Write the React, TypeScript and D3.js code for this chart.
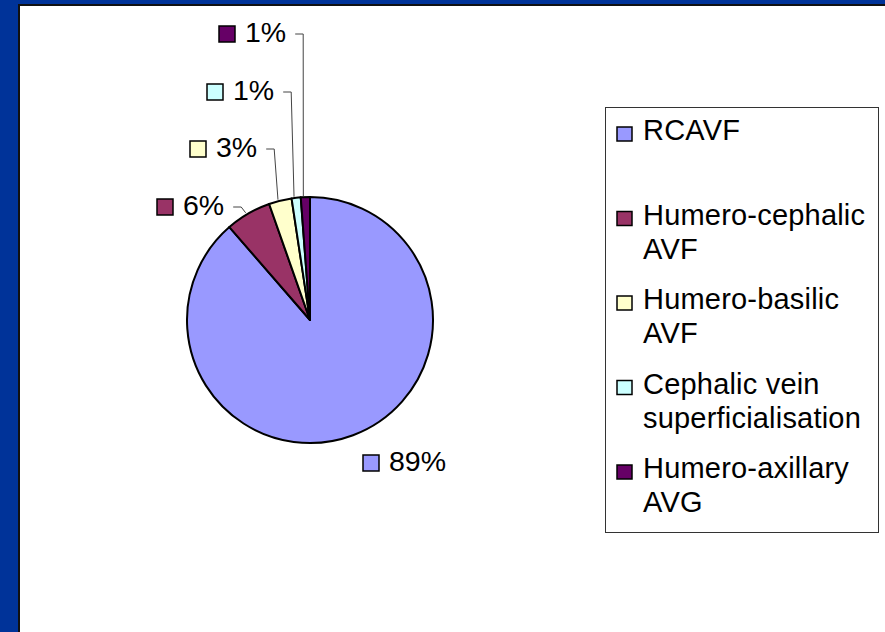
import React, { useRef, useEffect } from 'react';
import * as d3 from 'd3';

// Chart data
const categories = [
  'RCAVF',
  'Humero-cephalic AVF',
  'Humero-basilic AVF',
  'Cephalic vein superficialisation',
  'Humero-axillary AVG',
];
const legendLines = [
  ['RCAVF'],
  ['Humero-cephalic', 'AVF'],
  ['Humero-basilic', 'AVF'],
  ['Cephalic vein', 'superficialisation'],
  ['Humero-axillary', 'AVG'],
];
const values = [148, 10, 5, 2, 2];
const percentLabels = ['89%', '6%', '3%', '1%', '1%'];
const colors = ['#9999FF', '#993366', '#FFFFCC', '#CCFFFF', '#660066'];

// where each data label sits (text left, baseline), and whether it gets a leader line
const labelLayout = [
  { x: 389, y: 471, leader: false },
  { x: 183, y: 215, leader: true },
  { x: 216, y: 157, leader: true },
  { x: 233, y: 100, leader: true },
  { x: 245, y: 42, leader: true },
];

const W = 885;
const H = 632;
const FONT = '"Liberation Sans", Arial, sans-serif';

const App = () => {
  const svgRef = useRef<SVGSVGElement | null>(null);

  useEffect(() => {
    const svg = d3.select(svgRef.current);
    svg.selectAll('*').remove();

    // slide frame: blue background, white plot area with black edge
    svg.append('rect').attr('width', W).attr('height', H).attr('fill', '#003399');
    svg.append('rect')
      .attr('x', 19).attr('y', 5)
      .attr('width', W).attr('height', H)
      .attr('fill', '#ffffff')
      .attr('stroke', '#111').attr('stroke-width', 2);

    // pie
    const cx = 310, cy = 320, r = 123;
    const pie = d3.pie<number>().sort(null).value(d => d);
    const arcs = pie(values);
    const arc = d3.arc<d3.PieArcDatum<number>>().innerRadius(0).outerRadius(r);

    const g = svg.append('g').attr('transform', `translate(${cx},${cy})`);
    g.selectAll('path.slice')
      .data(arcs)
      .enter()
      .append('path')
      .attr('class', 'slice')
      .attr('d', arc)
      .attr('fill', (d, i) => colors[i])
      .attr('stroke', '#000')
      .attr('stroke-width', 2)
      .attr('stroke-linejoin', 'round');

    // data labels
    const labels = svg.append('g');
    arcs.forEach((d, i) => {
      const pos = labelLayout[i];
      labels.append('rect')
        .attr('x', pos.x - 26).attr('y', pos.y - 16)
        .attr('width', 16).attr('height', 16)
        .attr('fill', colors[i])
        .attr('stroke', '#000').attr('stroke-width', 1.5);
      const t = labels.append('text')
        .attr('x', pos.x).attr('y', pos.y)
        .style('font-family', FONT)
        .style('font-size', '28.5px')
        .style('fill', '#000')
        .text(percentLabels[i]);

      if (pos.leader) {
        const w = (t.node() as SVGTextElement).getComputedTextLength();
        const mid = (d.startAngle + d.endAngle) / 2;
        const ex = cx + (r + 1) * Math.sin(mid) - 2;
        const ey = cy - (r + 1) * Math.cos(mid);
        const sx = pos.x + w + 9;
        const sy = pos.y - 8;
        labels.append('path')
          .attr('d', d3.line()([[sx, sy], [sx + 8, sy], [ex, ey]]))
          .attr('fill', 'none')
          .attr('stroke', '#444')
          .attr('stroke-width', 1);
      }
    });

    // legend
    const legend = svg.append('g');
    legend.append('rect')
      .attr('x', 605.5).attr('y', 107.5)
      .attr('width', 273).attr('height', 425)
      .attr('fill', '#fff')
      .attr('stroke', '#333').attr('stroke-width', 1);

    const firstBaseline = 140;
    const slot = 84.5;
    const lineH = 34;
    categories.forEach((c, i) => {
      const by = firstBaseline + i * slot;
      legend.append('rect')
        .attr('x', 617).attr('y', by - 13)
        .attr('width', 15).attr('height', 14)
        .attr('fill', colors[i])
        .attr('stroke', '#000').attr('stroke-width', 1.5);
      const t = legend.append('text')
        .attr('x', 643).attr('y', by)
        .style('font-family', FONT)
        .style('font-size', '29px')
        .style('letter-spacing', '0.2px')
        .style('fill', '#000');
      legendLines[i].forEach((line, j) => {
        t.append('tspan')
          .attr('x', 643)
          .attr('y', by + j * lineH)
          .text(line);
      });
    });
  }, []);

  return (
    <svg
      ref={svgRef}
      width={W}
      height={H}
      style={{ position: 'absolute', left: 0, top: 0, display: 'block' }}
    ></svg>
  );
};

export default App;
